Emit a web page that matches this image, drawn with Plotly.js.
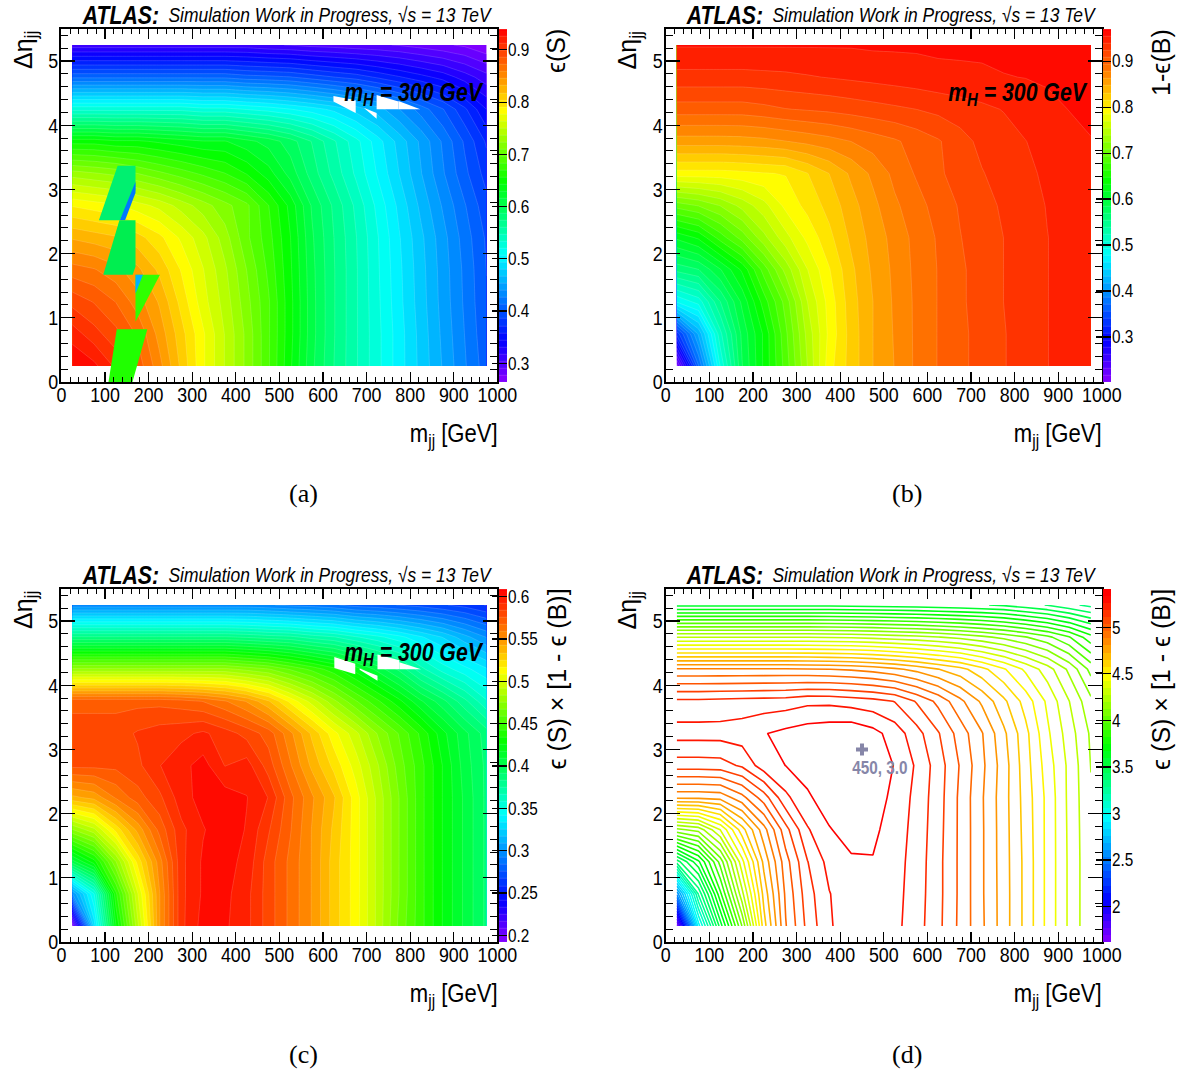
<!DOCTYPE html>
<html>
<head>
<meta charset="utf-8">
<script src="https://cdn.plot.ly/plotly-3.0.1.min.js"></script>
<style>html,body{margin:0;padding:0;background:#fff}</style>
</head>
<body>
<div id="chart" style="width:1178px;height:1072px"></div>
<script>
const mjjBins = [25,75,125,175,225,275,325,375,425,475,525,575,625,675,725,775,825,875,925,975];
const detaBins = [0.25,0.75,1.25,1.75,2.25,2.75,3.25,3.75,4.25,4.75,5.25];

const effS = [
[.94,.93,.91,.88,.85,.815,.78,.75,.72,.685,.645,.605,.575,.55,.525,.50,.476,.452,.428,.405],
[.92,.905,.89,.87,.84,.81,.78,.75,.72,.685,.647,.607,.576,.55,.525,.50,.475,.45,.426,.402],
[.895,.885,.872,.852,.83,.80,.77,.745,.715,.685,.647,.607,.576,.55,.524,.498,.473,.448,.424,.40],
[.865,.86,.85,.835,.815,.79,.765,.74,.71,.68,.645,.606,.576,.55,.523,.497,.472,.447,.423,.399],
[.83,.825,.82,.81,.795,.775,.755,.73,.70,.675,.643,.604,.575,.549,.522,.495,.47,.445,.42,.397],
[.79,.785,.78,.77,.76,.745,.73,.715,.70,.67,.638,.60,.572,.545,.517,.49,.463,.438,.414,.39],
[.73,.725,.72,.71,.70,.69,.68,.67,.655,.635,.61,.582,.557,.532,.506,.48,.454,.428,.403,.38],
[.65,.65,.645,.645,.64,.635,.63,.63,.62,.61,.595,.574,.55,.526,.50,.475,.45,.424,.397,.37],
[.53,.53,.53,.53,.53,.53,.525,.525,.52,.515,.508,.50,.49,.475,.46,.44,.42,.40,.375,.345],
[.41,.41,.41,.41,.41,.41,.41,.41,.405,.403,.40,.393,.386,.38,.37,.36,.35,.34,.325,.31],
[.31,.31,.31,.31,.31,.31,.31,.31,.31,.306,.304,.30,.298,.295,.293,.29,.285,.28,.275,.265]
];
const oneMinusEffB = [
[.21,.37,.495,.585,.635,.685,.74,.795,.823,.847,.863,.881,.894,.905,.914,.923,.931,.939,.944,.948],
[.33,.42,.52,.59,.635,.69,.745,.79,.823,.847,.864,.881,.894,.905,.914,.923,.931,.939,.944,.948],
[.48,.50,.555,.605,.655,.70,.755,.792,.825,.847,.865,.881,.894,.906,.915,.924,.932,.939,.944,.948],
[.56,.57,.60,.635,.685,.73,.77,.80,.828,.85,.866,.882,.894,.906,.915,.924,.932,.939,.944,.948],
[.62,.635,.67,.70,.735,.765,.79,.812,.835,.853,.868,.883,.895,.908,.916,.924,.932,.939,.944,.948],
[.70,.71,.725,.745,.765,.79,.806,.822,.841,.858,.875,.887,.90,.91,.919,.926,.933,.94,.945,.949],
[.795,.795,.795,.797,.80,.802,.816,.832,.85,.866,.882,.895,.906,.915,.923,.93,.936,.942,.947,.95],
[.855,.855,.855,.856,.858,.862,.867,.872,.878,.885,.891,.899,.907,.918,.928,.933,.939,.944,.949,.954],
[.901,.901,.901,.901,.904,.908,.91,.912,.915,.918,.921,.924,.928,.932,.936,.94,.945,.95,.955,.958],
[.934,.934,.934,.934,.935,.936,.938,.94,.942,.944,.946,.948,.95,.951,.952,.954,.955,.957,.958,.96],
[.956,.956,.956,.956,.956,.956,.956,.956,.956,.957,.957,.957,.958,.958,.958,.959,.96,.96,.961,.962]
];
const effProduct = [
[.197,.33,.425,.49,.55,.59,.604,.602,.595,.58,.565,.55,.53,.513,.49,.465,.445,.425,.407,.39],
[.30,.35,.44,.50,.55,.59,.602,.603,.595,.58,.565,.55,.53,.513,.49,.467,.445,.425,.407,.39],
[.405,.43,.475,.52,.555,.59,.602,.604,.598,.58,.565,.55,.53,.513,.49,.467,.445,.425,.407,.39],
[.475,.49,.52,.545,.57,.59,.60,.606,.60,.585,.568,.55,.532,.513,.49,.467,.445,.425,.407,.39],
[.54,.545,.56,.572,.582,.597,.604,.605,.601,.592,.57,.552,.535,.513,.49,.467,.445,.425,.407,.39],
[.578,.578,.578,.582,.592,.598,.604,.592,.596,.58,.56,.54,.523,.505,.485,.463,.445,.425,.405,.39],
[.58,.58,.58,.585,.588,.59,.594,.588,.581,.572,.553,.532,.512,.495,.475,.458,.44,.42,.403,.388],
[.573,.573,.573,.573,.573,.571,.567,.56,.55,.535,.515,.497,.478,.46,.444,.428,.41,.395,.378,.36],
[.478,.478,.478,.478,.478,.478,.478,.478,.473,.468,.458,.448,.437,.422,.406,.39,.37,.355,.345,.335],
[.385,.385,.385,.385,.385,.385,.385,.385,.383,.38,.378,.372,.368,.36,.353,.345,.335,.325,.312,.30],
[.295,.295,.295,.295,.295,.295,.295,.295,.295,.293,.29,.288,.285,.28,.278,.275,.272,.268,.264,.258]
];
const significance = [
[1.65,2.95,3.55,4.05,4.62,4.95,5.13,5.25,5.30,5.31,5.28,5.215,5.127,5.013,4.893,4.765,4.63,4.48,4.335,4.21],
[2.55,3.3,3.8,4.25,4.68,4.97,5.15,5.255,5.31,5.32,5.285,5.22,5.13,5.015,4.89,4.765,4.63,4.48,4.335,4.21],
[3.4,3.65,4.0,4.4,4.75,5.0,5.18,5.285,5.325,5.33,5.29,5.225,5.13,5.015,4.89,4.763,4.63,4.48,4.335,4.21],
[4.10,4.15,4.35,4.62,4.85,5.08,5.25,5.33,5.36,5.35,5.30,5.23,5.135,5.015,4.89,4.762,4.625,4.48,4.333,4.208],
[4.82,4.82,4.83,4.93,5.07,5.24,5.325,5.365,5.39,5.37,5.315,5.235,5.14,5.015,4.888,4.76,4.62,4.48,4.33,4.205],
[5.145,5.145,5.15,5.195,5.30,5.335,5.36,5.385,5.405,5.39,5.33,5.248,5.145,5.025,4.898,4.765,4.61,4.465,4.33,4.195],
[5.29,5.29,5.29,5.30,5.33,5.355,5.375,5.385,5.395,5.36,5.30,5.212,5.113,4.997,4.885,4.745,4.60,4.44,4.31,4.185],
[5.20,5.20,5.205,5.21,5.215,5.22,5.24,5.24,5.225,5.21,5.18,5.10,5.01,4.90,4.79,4.67,4.545,4.41,4.275,4.14],
[4.89,4.89,4.89,4.89,4.89,4.89,4.885,4.88,4.87,4.85,4.82,4.78,4.73,4.68,4.60,4.51,4.41,4.31,4.18,4.02],
[4.27,4.27,4.27,4.27,4.27,4.27,4.27,4.265,4.26,4.25,4.235,4.22,4.20,4.175,4.14,4.10,4.05,3.99,3.90,3.77],
[3.57,3.57,3.57,3.57,3.57,3.57,3.57,3.57,3.565,3.56,3.555,3.55,3.54,3.53,3.52,3.505,3.47,3.435,3.385,3.34]
];

const zRanges = {a:[0.264,0.94], b:[0.202,0.97], c:[0.192,0.609], d:[1.62,5.41]};
const cbTicks = {
  a:[0.3,0.4,0.5,0.6,0.7,0.8,0.9],
  b:[0.3,0.4,0.5,0.6,0.7,0.8,0.9],
  c:[0.2,0.25,0.3,0.35,0.4,0.45,0.5,0.55,0.6],
  d:[2,2.5,3,3.5,4,4.5,5]
};
const cbTickText = {
  a:['0.3','0.4','0.5','0.6','0.7','0.8','0.9'],
  b:['0.3','0.4','0.5','0.6','0.7','0.8','0.9'],
  c:['0.2','0.25','0.3','0.35','0.4','0.45','0.5','0.55','0.6'],
  d:['2','2.5','3','3.5','4','4.5','5']
};
const xTickVals = [0,100,200,300,400,500,600,700,800,900,1000];
const xTickText = ['0','100','200','300','400','500','600','700','800','900','1000'];
const yTickVals = [0,1,2,3,4,5];
const yTickText = ['0','1','2','3','4','5'];
const cbTitles = ['ϵ(S)','1-ϵ(B)','ϵ (S) × [1 - ϵ (B)]','ϵ (S) × [1 - ϵ (B)]'];
const panelLabels = ['(a)','(b)','(c)','(d)'];
const bestPointM = [450], bestPointEta = [3.0];
const bestLabelM = [491], bestLabelEta = [2.68], bestLabel = ['<b>450, 3.0</b>'];

/* rendering glitches of the original figure */
const glitchA = [
 {x:[129,170,170,134,86], y:[3.37,3.37,2.99,2.52,2.52], c:'#00f070'},
 {x:[170,170,146,134], y:[3.12,2.95,2.52,2.52], c:'#0078ff'},
 {x:[133,170,170,163.5,96], y:[2.52,2.52,1.8,1.67,1.67], c:'#00ee50'},
 {x:[170,226,170], y:[1.67,1.67,0.94], c:'#30ff00'},
 {x:[170,187,170], y:[1.67,1.67,1.38], c:'#00b0ff'},
 {x:[127,197,163,108], y:[0.82,0.82,0,0], c:'#20ff00'},
 {x:[624,675,675,624], y:[4.455,4.39,4.19,4.37], c:'#ffffff'},
 {x:[694,723,723], y:[4.27,4.19,4.1], c:'#ffffff'},
 {x:[723,773,773,723], y:[4.47,4.37,4.25,4.25], c:'#ffffff'},
 {x:[773,823,773], y:[4.38,4.25,4.25], c:'#ffffff'}
];
const glitchC = [
 {x:[626,674,674,626], y:[4.44,4.336,4.17,4.27], c:'#ffffff'},
 {x:[684,725,725,684], y:[4.26,4.15,4.07,4.24], c:'#ffffff'},
 {x:[725,775,775,725], y:[4.48,4.39,4.25,4.25], c:'#ffffff'},
 {x:[775,825,775], y:[4.36,4.25,4.25], c:'#ffffff'}
];

const rainbow = [[0,'#8a00ff'],[0.12,'#0000ff'],[0.36,'#00ffff'],[0.566,'#00ff00'],[0.768,'#ffff00'],[0.875,'#ff8000'],[1,'#ff0000']];
const SANS = '"Liberation Sans",Arial,sans-serif';
const W = 1178, H = 1072, NARROW_SCALE = 0.85;
const fx = p => p/W, fy = p => 1 - p/H;

const panels = [
 {k:'a', z:effS, L:61.4, T:29, xa:'x', ya:'y', cbx:498.5},
 {k:'b', z:oneMinusEffB, L:665.8, T:29, xa:'x2', ya:'y2', cbx:1103},
 {k:'c', z:effProduct, L:61.4, T:589, xa:'x3', ya:'y3', cbx:498.5},
 {k:'d', z:significance, L:665.8, T:589, xa:'x4', ya:'y4', cbx:1103}
];
const PW = 436, PH = 353;
const traces = [], annotations = [], layout = {
  width:W, height:H, margin:{l:0,r:0,t:0,b:0,pad:0}, paper_bgcolor:'#fff', plot_bgcolor:'#fff',
  showlegend:false, annotations:annotations
};

function axBase(vals, text, range, major, minorLen, minorD, standoff){
  return {range:range, tickmode:'array', tickvals:vals, ticktext:text, ticks:'inside', ticklen:major, tickwidth:1.2,
    tickcolor:'#000', showgrid:false, zeroline:false, showline:true, linecolor:'#000', linewidth:2, mirror:'ticks',
    tickfont:{family:SANS,size:21,color:'#000'}, tickangle:0, ticklabelstandoff:standoff,
    minor:{ticks:'inside',ticklen:minorLen,dtick:minorD,tickwidth:1,tickcolor:'#000',showgrid:false}};
}

panels.forEach((p,i)=>{
  const n = i===0?'':String(i+1);
  const [z0,z1] = zRanges[p.k];
  const size = (z1-z0)/50;
  const xd = [fx(p.L), fx(p.L+PW)], yd = [fy(p.T+PH), fy(p.T)];
  layout['xaxis'+n] = Object.assign(axBase(xTickVals,xTickText,[0,1000],10,5,20,-7),{domain:xd,anchor:'y'+n});
  layout['yaxis'+n] = Object.assign(axBase(yTickVals,yTickText,[0,5.5],14,7,0.2,-3),{domain:yd,anchor:'x'+n});
  const cb = {x:fx(p.cbx), xanchor:'left', xref:'paper', y:(yd[0]+yd[1])/2, yanchor:'middle', yref:'paper',
    len:PH/H, lenmode:'fraction', thickness:8, thicknessmode:'pixels', xpad:0, ypad:0, outlinewidth:0,
    tickmode:'array', tickvals:cbTicks[p.k], ticktext:cbTickText[p.k], ticks:'inside', ticklen:15, tickwidth:1.2, tickcolor:'#000',
    tickfont:{family:SANS,size:18,color:'#000'}};
  if(p.k!=='d'){
    traces.push({type:'contour',x:mjjBins,y:detaBins,z:p.z,xaxis:p.xa,yaxis:p.ya,colorscale:rainbow,zmin:z0,zmax:z1,zauto:false,
      autocontour:false,contours:{start:z0,end:z1,size:size,coloring:'fill',showlines:true},
      line:{width:0.5,color:'rgba(255,255,255,0.3)',smoothing:0},colorbar:cb,hoverinfo:'skip'});
  } else {
    traces.push({type:'contour',x:mjjBins,y:detaBins,z:p.z,xaxis:p.xa,yaxis:p.ya,colorscale:rainbow,zmin:z0,zmax:z1,zauto:false,
      autocontour:false,contours:{start:z0,end:z1,size:size,coloring:'lines'},
      line:{width:1.6,smoothing:0},showscale:false,hoverinfo:'skip'});
    /* filled palette for the colour bar: a spare, hidden and tiny axis pair carries it */
    layout.xaxis5 = {domain:[0,0.001],anchor:'y5',range:[5000,6000],visible:false};
    layout.yaxis5 = {domain:[0,0.001],anchor:'x5',range:[50,60],visible:false};
    traces.push({type:'contour',x:mjjBins,y:detaBins,z:p.z,xaxis:'x5',yaxis:'y5',colorscale:rainbow,zmin:z0,zmax:z1,zauto:false,
      autocontour:false,contours:{start:z0,end:z1,size:size,coloring:'fill',showlines:false},line:{width:0},colorbar:cb,hoverinfo:'skip'});
    traces.push({type:'scatter',x:bestPointM,y:bestPointEta,mode:'markers',xaxis:p.xa,yaxis:p.ya,
      marker:{symbol:'cross',size:10,color:'#8686a8'},hoverinfo:'skip'});
    traces.push({type:'scatter',x:bestLabelM,y:bestLabelEta,mode:'text',xaxis:p.xa,yaxis:p.ya,text:bestLabel,textposition:'middle center',
      textfont:{family:SANS,size:18,color:'#8686a8'},hoverinfo:'skip'});
  }
  const gl = p.k==='a'?glitchA:(p.k==='c'?glitchC:[]);
  gl.forEach(g=>traces.push({type:'scatter',x:g.x,y:g.y,mode:'lines',fill:'toself',fillcolor:g.c,line:{width:0,color:g.c},
    xaxis:p.xa,yaxis:p.ya,hoverinfo:'skip'}));

  const A = (o)=>annotations.push(Object.assign({xref:'paper',yref:'paper',showarrow:false,borderpad:0,xanchor:'center',yanchor:'middle'},o));
  const dx = p.L-61.4, dy = p.T-29;
  A({x:fx(120+dx),y:fy(15+dy),text:'<b><i>ATLAS:</i></b>',font:{family:SANS,size:25,color:'#000'}});
  A({x:fx(330.5+dx),y:fy(14+dy),text:'<i>Simulation Work in Progress, √s = 13 TeV</i>',font:{family:SANS,size:20.5,color:'#000'}});
  A({x:fx(453+dx),y:fy(434+dy),text:'m<sub>jj</sub> [GeV]',font:{family:SANS,size:26,color:'#000'}});
  A({x:fx(25+dx),y:fy(30+dy),yanchor:'top',textangle:-90,text:'Δη<sub>jj</sub>',font:{family:SANS,size:25,color:'#000'}});
  A({x:fx(556+dx),y:fy(28+dy),yanchor:'top',textangle:-90,text:cbTitles[i],font:{family:SANS,size:25,color:'#000'}});
  A({x:fx(303+dx),y:fy(494+dy),text:panelLabels[i],font:{family:'"Liberation Serif",serif',size:26,color:'#000'}});
  if(p.k!=='d'){
    A({x:fx(414+dx),y:fy(94+dy),text:'<b><i>m<sub>H</sub> = 300 GeV</i></b>',font:{family:SANS,size:25,color:'#000'}});
  }
});

Plotly.newPlot('chart',traces,layout,{displayModeBar:false,staticPlot:true}).then(gd=>{
  /* the reference's sans text is horizontally condensed: squeeze each label around its anchor */
  gd.querySelectorAll('svg text').forEach(t=>{
    const s = t.textContent;
    if(!s.trim()){ t.remove(); return; }
    if(/ϵ|Δ|^\([abcd]\)$/.test(s)) return;
    const x = parseFloat(t.getAttribute('x'))||0, y = parseFloat(t.getAttribute('y'))||0;
    const base = t.getAttribute('transform')||'';
    const cbShift = t.closest('.cbaxis') ? 'translate(-3,0) ' : '';
    t.setAttribute('transform', base+' '+cbShift+'translate('+x+','+y+') scale('+NARROW_SCALE+',1) translate('+(-x)+','+(-y)+')');
  });
});
</script>
</body>
</html>
